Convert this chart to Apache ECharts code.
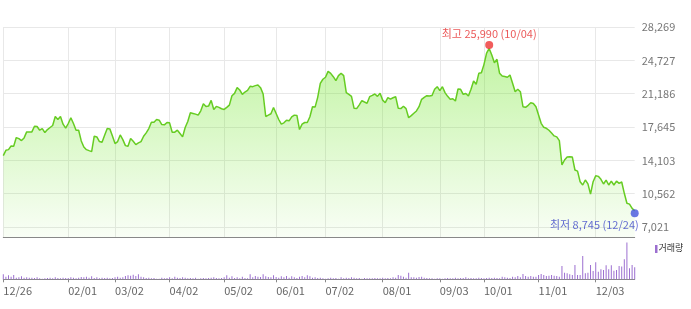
<!DOCTYPE html>
<html><head><meta charset="utf-8">
<script src="https://cdn.jsdelivr.net/npm/echarts@6/dist/echarts.min.js"></script>
<style>html,body{margin:0;padding:0;background:#fff;}#c{width:691px;height:309px;}</style>
</head><body><div id="c"></div>
<script>
// ---- data ----
const holidays = ['2017-12-29','2018-01-01','2018-02-15','2018-02-16','2018-03-01','2018-05-01','2018-05-07','2018-05-22','2018-06-06','2018-06-13','2018-08-15','2018-09-24','2018-09-25','2018-09-26','2018-10-03','2018-10-09'];
const firstDay = '2017-12-26';
const lastDay = '2018-12-24';

const prices = [
14598,15168,15239,15631,15595,16521,16414,16200,16485,17126,
17126,17126,17731,17696,17304,17482,17055,17375,17589,17802,
18764,18443,18764,17945,17518,18016,18621,18016,17304,17304,
16165,15524,15239,15132,15026,16663,16592,16094,16022,16770,
17482,17446,16699,15880,16094,16806,16307,15666,15595,16414,
16129,15773,15950,16094,16663,17019,17482,18158,18158,18443,
18372,17909,17874,18123,18087,17091,17091,17304,16948,16592,
17589,18230,19155,19084,19013,18906,19369,20116,19832,19867,
20472,19511,19832,19725,19582,19511,19725,19974,20971,21220,
21825,21576,21113,21362,21540,21968,21932,22039,22110,21825,
21149,18764,18906,19050,19725,19084,18443,17945,18087,18372,
18301,18728,18906,18870,17375,17945,18123,18123,18728,19796,
19760,20793,22289,22716,22930,23560,23346,22990,22564,23098,
23356,23098,21291,21113,20900,19632,19600,20000,20439,20300,
20163,20864,21000,21151,20900,21225,20500,20227,20758,20600,
20750,20864,19632,19600,19850,19600,18633,18850,19100,19350,
19800,20587,20800,20969,20950,21000,21650,21927,21500,21927,
21300,20900,20600,20650,20407,21682,21650,21118,21200,20938,
21650,22532,22181,23350,23400,24300,25500,25990,25294,24476,
24837,23350,23063,23000,22925,23170,22288,21396,21650,21396,
19802,19737,19950,20227,20150,19802,18920,18038,17613,17507,
17300,17000,16700,16600,16192,13607,14138,14450,14492,14450,
13076,12950,11833,11483,12014,11600,10511,11833,12470,12400,
12089,11590,12000,11483,11900,11483,11900,11660,11800,10600,
9540,9450,9000,8745
];

const volumes = [
450,240,360,240,390,150,180,270,150,180,
150,150,120,180,90,60,90,120,150,90,
180,120,90,150,120,120,180,150,90,150,
210,180,240,150,270,120,180,90,150,120,
150,90,120,180,240,150,180,300,360,330,
420,300,450,240,180,120,150,90,120,60,
60,150,90,120,180,90,240,150,120,180,
150,90,120,90,150,60,90,120,90,120,
150,180,120,90,120,180,360,150,270,120,
180,90,240,120,90,450,180,300,240,210,
450,270,210,180,360,210,150,270,180,300,
150,270,180,120,240,300,180,360,270,150,
180,120,150,90,60,90,150,90,120,60,
180,90,150,120,180,150,90,120,60,120,
90,90,90,120,90,90,150,90,120,90,
180,150,390,330,240,150,600,180,180,150,
210,240,150,120,90,90,60,90,90,60,
90,120,90,90,150,90,120,120,180,90,
120,90,90,150,120,90,120,150,120,150,
120,90,240,180,150,120,240,180,300,180,
480,300,240,300,240,240,390,480,390,300,
330,390,330,300,240,1200,600,540,450,390,
1290,390,390,2100,540,600,1290,750,1530,690,
900,840,1260,900,1260,780,840,1200,1140,1800,
3300,990,1290,1080
];

const tickLabels = ['12/26','02/01','03/02','04/02','05/02','06/01','07/02','08/01','09/03','10/01','11/01','12/03'];
const yTickLabels = ['7,021','10,562','14,103','17,645','21,186','24,727','28,269'];
const yLow = 7021, yHigh = 28269;
const volMax = 3300;

// ---- build categories (trading days) ----
function buildDates(){
  const out = [];
  const d = new Date(firstDay + 'T00:00:00Z');
  const end = new Date(lastDay + 'T00:00:00Z').getTime();
  while (d.getTime() <= end) {
    const wd = d.getUTCDay();
    const iso = d.toISOString().slice(0,10);
    if (wd !== 0 && wd !== 6 && holidays.indexOf(iso) < 0) out.push(iso);
    d.setUTCDate(d.getUTCDate() + 1);
  }
  return out;
}
const dates = buildDates();
const categories = dates.map(s => s.slice(5,7) + '/' + s.slice(8,10));

const maxVal = Math.max(...prices), minVal = Math.min(...prices);
const maxIdx = prices.indexOf(maxVal), minIdx = prices.indexOf(minVal);
const fmt = v => v.toLocaleString('en-US');

const span = yHigh - yLow;           // 200px
const step = span / 6;
const pxPerUnit = 200 / span;
const dataMin = yLow - 10 / pxPerUnit; // axis line 10px below lowest gridline

const FONT = '"Noto Sans CJK KR", "Noto Sans", sans-serif';
const isTick = (i, v) => tickLabels.indexOf(v) >= 0;
const L = 3.3, R = 56.3;

const chart = echarts.init(document.getElementById('c'), null, {renderer:'canvas'});
chart.setOption({
  animation: false,
  backgroundColor: '#fff',
  grid: [
    {left: L, right: R, top: 27, height: 210},
    {left: L, right: R, top: 242.6, height: 36.7},
    {left: L, right: R, top: 27, height: 200}
  ],
  xAxis: [
    {gridIndex: 0, type: 'category', data: categories, boundaryGap: false,
     axisLine: {show: true, lineStyle: {color: '#888', width: 1}},
     axisTick: {show: false}, axisLabel: {show: false},
     splitLine: {show: true, interval: isTick, lineStyle: {color: '#e8e8e8', width: 1}}},
    {gridIndex: 1, type: 'category', data: categories, boundaryGap: false,
     axisLine: {show: true, lineStyle: {color: '#888', width: 1}},
     axisTick: {show: true, interval: isTick, length: 3, lineStyle: {color: '#888'}},
     axisLabel: {show: true, interval: isTick, align: 'left', margin: 6, color: '#666', fontSize: 11, fontFamily: FONT},
     splitLine: {show: false}},
    {gridIndex: 2, type: 'value', show: false, min: 0, max: 1}
  ],
  yAxis: [
    {gridIndex: 0, type: 'value', min: dataMin, max: yHigh, show: false, splitLine: {show: false}},
    {gridIndex: 1, type: 'value', min: 0, max: volMax, show: false, splitLine: {show: false}},
    {gridIndex: 2, type: 'value', position: 'right', min: 0, max: span, interval: step,
     axisLine: {show: false}, axisTick: {show: false},
     splitLine: {show: true, lineStyle: {color: '#e8e8e8', width: 1}},
     axisLabel: {show: true, margin: 7, color: '#777', fontSize: 11, fontFamily: FONT,
       formatter: v => yTickLabels[Math.round(v / step)] || ''}}
  ],
  series: [
    {type: 'line', xAxisIndex: 0, yAxisIndex: 0, data: prices, symbol: 'none', smooth: false,
     lineStyle: {color: '#66cc22', width: 1.5},
     areaStyle: {color: new echarts.graphic.LinearGradient(0, 0, 0, 1, [
       {offset: 0, color: 'rgba(105,228,30,0.58)'},
       {offset: 1, color: 'rgba(105,228,30,0.06)'}
     ])}, z: 2},
    {type: 'scatter', xAxisIndex: 0, yAxisIndex: 0, data: [[maxIdx, maxVal]], symbolSize: 8,
     symbolOffset: [0, -3.5], itemStyle: {color: '#ee3333'}, z: 5,
     label: {show: true, position: 'top', distance: 2, color: '#e62e2e', fontSize: 11, fontFamily: FONT,
       formatter: () => '최고 ' + fmt(maxVal) + ' (' + categories[maxIdx] + ')'}},
    {type: 'scatter', xAxisIndex: 0, yAxisIndex: 0, data: [[minIdx, minVal]], symbolSize: 8,
     symbolOffset: [0, 2.5], itemStyle: {color: '#4455dd'}, z: 5,
     label: {show: true, position: 'bottom', distance: 2, align: 'right', offset: [4, 0], color: '#3c46c8', fontSize: 11, fontFamily: FONT,
       formatter: () => '최저 ' + fmt(minVal) + ' (' + categories[minIdx] + ')'}},
    {type: 'bar', name: '거래량', xAxisIndex: 1, yAxisIndex: 1, data: volumes, barWidth: 1,
     itemStyle: {color: '#9c6fd0'}}
  ],
  graphic: [
    {type: 'rect', left: 655, top: 245, shape: {width: 2.5, height: 8}, style: {fill: '#9c6fd0'}},
    {type: 'text', left: 658.5, top: 243, style: {text: '거래량', fill: '#333', fontSize: 9, fontFamily: FONT}}
  ]
});
</script>
</body></html>
